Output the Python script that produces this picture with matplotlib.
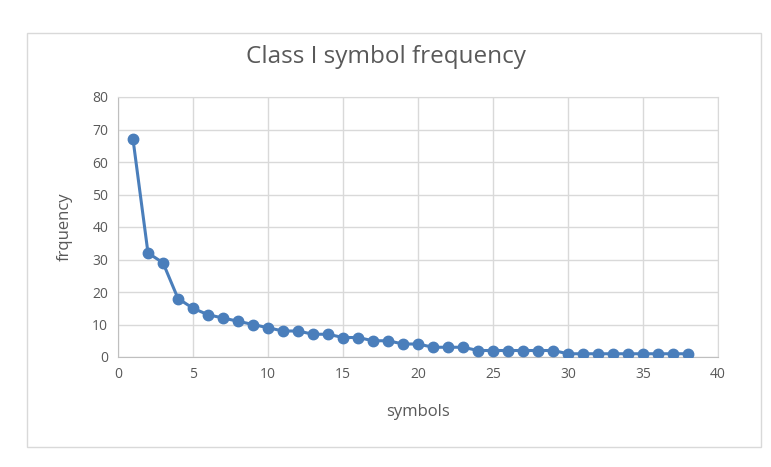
import matplotlib.pyplot as plt
from matplotlib.patches import Rectangle

symbols = list(range(1, 39))
frequency = [67, 32, 29, 18, 15, 13, 12, 11, 10, 9,
             8, 8, 7, 7, 6, 6, 5, 5, 4, 4,
             3, 3, 3, 2, 2, 2, 2, 2, 2, 1,
             1, 1, 1, 1, 1, 1, 1, 1]

plt.rcParams['font.family'] = ['Open Sans', 'DejaVu Sans']

fig = plt.figure(figsize=(7.71, 4.67), dpi=100)
fig.patches.append(Rectangle((27 / 771, 1 - 447 / 467), 734 / 771, 414 / 467,
                             transform=fig.transFigure, fill=False,
                             edgecolor='#d9d9d9', linewidth=1))
ax = fig.add_axes([118 / 771, 1 - 357 / 467, 600 / 771, 260 / 467])

ax.plot(symbols, frequency, color='#4a7ebb', linewidth=2.2,
        marker='o', markersize=7.5, zorder=3)

ax.set_xlim(0, 40)
ax.set_ylim(0, 80)
ax.set_xticks(range(0, 41, 5))
ax.set_yticks(range(0, 81, 10))
ax.grid(color='#d9d9d9', linewidth=1)
ax.set_axisbelow(True)
for s in ax.spines.values():
    s.set_color('#d9d9d9')
ax.spines['bottom'].set_color('#bfbfbf')
ax.spines['left'].set_color('#bfbfbf')
ax.tick_params(length=0, labelsize=10, colors='#595959', pad=7)

fig.text(0.5, 1 - 57 / 467, 'Class I symbol frequency', ha='center', va='center',
         fontsize=17.5, color='#595959')
ax.set_xlabel('symbols', fontsize=12, color='#595959', labelpad=16)
ax.set_ylabel('frquency', fontsize=12, color='#595959', labelpad=14)

fig.savefig('out.png', dpi=100)
